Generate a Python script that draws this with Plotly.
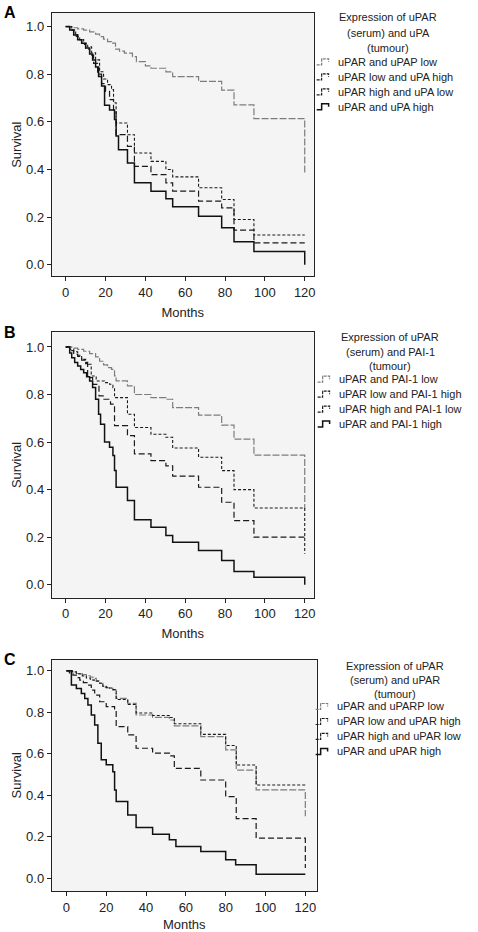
import plotly.graph_objects as go

W, H = 478, 932
FONT = "Liberation Sans, Arial, Helvetica, sans-serif"

# ---------------- data ----------------
# Panel A: uPAR (serum) and uPA (tumour)
A_low_t = [0, 3, 6, 9, 12, 15, 17, 19, 21, 23, 25, 27, 29.5, 33.5, 35.5, 40, 42.8, 50.3, 53.7, 66.7, 78.3, 84.5, 94.5, 120, 120]
A_low_s = [1.0, 0.995, 0.99, 0.985, 0.978, 0.968, 0.958, 0.947, 0.937, 0.93, 0.905, 0.897, 0.888, 0.874, 0.853, 0.835, 0.825, 0.81, 0.79, 0.77, 0.733, 0.671, 0.613, 0.613, 0.38]
A_dot_t = [0, 3, 5, 7, 9, 11, 13, 15, 17, 19, 21, 23, 24, 25.3, 31, 34.5, 42.8, 50.3, 53.7, 66.7, 78.3, 84.5, 94.5, 120]
A_dot_s = [1.0, 0.985, 0.958, 0.945, 0.93, 0.915, 0.89, 0.86, 0.81, 0.78, 0.756, 0.735, 0.68, 0.595, 0.546, 0.469, 0.434, 0.40, 0.369, 0.323, 0.274, 0.19, 0.125, 0.125]
A_dash_t = [0, 2, 4, 6, 8, 10, 12, 14, 16, 18, 20, 22, 24, 25.3, 31, 34.5, 42.8, 50.3, 53.7, 66.7, 78.3, 84.5, 94.5, 120]
A_dash_s = [1.0, 0.985, 0.965, 0.945, 0.925, 0.905, 0.88, 0.845, 0.8, 0.76, 0.728, 0.693, 0.65, 0.546, 0.497, 0.413, 0.378, 0.344, 0.309, 0.267, 0.239, 0.145, 0.092, 0.092]
A_sol_t = [0, 2, 4, 6, 8, 10, 12, 13.5, 15, 16.5, 18, 19.5, 22, 24.5, 25.3, 26.5, 31, 34.5, 42.8, 50.3, 53.7, 66.7, 78.3, 84.5, 94.5, 120, 120]
A_sol_s = [1.0, 0.985, 0.965, 0.945, 0.93, 0.91, 0.885, 0.86, 0.83, 0.79, 0.75, 0.67, 0.65, 0.61, 0.54, 0.483, 0.427, 0.344, 0.309, 0.277, 0.243, 0.204, 0.155, 0.096, 0.056, 0.056, 0.0]

# Panel B: uPAR (serum) and PAI-1 (tumour)
B_low_t = [0, 3, 6, 9, 12, 15, 17, 19, 21, 23, 24.5, 25.3, 31, 34.5, 42.8, 50.3, 53.7, 66.7, 78.3, 84.5, 94.5, 120, 120]
B_low_s = [1.0, 0.995, 0.99, 0.982, 0.972, 0.958, 0.94, 0.925, 0.913, 0.906, 0.878, 0.857, 0.836, 0.80, 0.787, 0.78, 0.745, 0.713, 0.671, 0.612, 0.545, 0.545, 0.32]
B_dot_t = [0, 2, 4, 6, 8, 10, 11.5, 12.8, 15.3, 19.5, 22, 23.7, 24.5, 31, 34.5, 42.8, 50.3, 53.7, 66.7, 78.3, 84.5, 94.5, 120, 120]
B_dot_s = [1.0, 0.99, 0.98, 0.965, 0.948, 0.935, 0.927, 0.878, 0.857, 0.85, 0.843, 0.829, 0.787, 0.717, 0.661, 0.633, 0.62, 0.575, 0.536, 0.48, 0.40, 0.323, 0.323, 0.13]
B_dash_t = [0, 2, 4, 6, 8, 10, 11, 13.5, 16.7, 19.2, 22.5, 24.5, 31, 34.5, 42.8, 50.3, 53.7, 66.7, 78.3, 84.5, 94.5, 120]
B_dash_s = [1.0, 0.985, 0.97, 0.96, 0.945, 0.93, 0.871, 0.843, 0.794, 0.78, 0.76, 0.669, 0.627, 0.55, 0.522, 0.50, 0.457, 0.41, 0.347, 0.27, 0.2, 0.2]
B_sol_t = [0, 2, 3, 4.5, 6, 7.5, 9, 10.5, 12, 13.5, 15, 16.5, 17.5, 19.5, 22, 23.7, 24.5, 25.3, 31, 34.5, 42.8, 50.3, 53.7, 66.7, 78.3, 84.5, 94.5, 120, 120]
B_sol_s = [1.0, 0.975, 0.955, 0.935, 0.92, 0.905, 0.892, 0.875, 0.857, 0.829, 0.78, 0.717, 0.675, 0.6, 0.578, 0.543, 0.48, 0.41, 0.354, 0.273, 0.242, 0.207, 0.179, 0.144, 0.102, 0.056, 0.032, 0.032, 0.0]

# Panel C: uPAR (serum) and uPAR (tumour)
C_low_t = [0, 3, 5, 8, 10, 12, 13.3, 15, 16.7, 18.3, 20, 21.7, 23.3, 25, 30.8, 35, 43.3, 51.7, 54.2, 67.5, 80, 85.3, 95.3, 120, 120]
C_low_s = [1.0, 0.995, 0.987, 0.982, 0.976, 0.97, 0.963, 0.952, 0.94, 0.923, 0.918, 0.915, 0.907, 0.867, 0.843, 0.787, 0.776, 0.763, 0.735, 0.683, 0.619, 0.522, 0.426, 0.426, 0.3]
C_dot_t = [0, 3, 5, 8, 10, 12, 13.3, 15, 16.7, 18.3, 20, 21.7, 23.3, 25, 30.8, 35, 43.3, 51.7, 54.2, 67.5, 80, 85.3, 95.3, 120]
C_dot_s = [1.0, 0.995, 0.985, 0.975, 0.965, 0.96, 0.955, 0.95, 0.94, 0.925, 0.92, 0.917, 0.91, 0.862, 0.838, 0.797, 0.785, 0.775, 0.745, 0.694, 0.64, 0.546, 0.45, 0.45]
C_dash_t = [0, 1.5, 3.3, 5, 6.7, 8.5, 10.8, 12.5, 14.2, 16.7, 20, 24.2, 25, 30.8, 35, 43.3, 51.7, 54.2, 67.5, 80, 85.3, 95.3, 120, 120]
C_dash_s = [1.0, 0.99, 0.979, 0.967, 0.955, 0.943, 0.931, 0.907, 0.883, 0.851, 0.827, 0.811, 0.731, 0.691, 0.627, 0.603, 0.59, 0.53, 0.474, 0.394, 0.288, 0.194, 0.194, 0.05]
C_sol_t = [0, 2, 2.5, 5, 7.5, 9.2, 10.8, 12.5, 14.2, 15.8, 17.5, 20, 23.3, 24.2, 25, 30.8, 35, 43.3, 51.7, 55, 67.5, 80, 85, 95.3, 120]
C_sol_s = [1.0, 1.0, 0.931, 0.915, 0.891, 0.867, 0.835, 0.787, 0.739, 0.651, 0.571, 0.547, 0.514, 0.426, 0.37, 0.306, 0.245, 0.213, 0.186, 0.154, 0.13, 0.09, 0.066, 0.02, 0.02]

A_names = ["uPAR and uPAP low", "uPAR low and uPA high", "uPAR high and uPA low", "uPAR and uPA high"]
B_names = ["uPAR and PAI-1 low", "uPAR low and PAI-1 high", "uPAR high and PAI-1 low", "uPAR and PAI-1 high"]
C_names = ["uPAR and uPARP low", "uPAR low and uPAR high", "uPAR high and uPAR low", "uPAR and uPAR high"]
A_title = ["Expression of uPAR", "(serum) and uPA", "(tumour)"]
B_title = ["Expression of uPAR", "(serum) and PAI-1", "(tumour)"]
C_title = ["Expression of uPAR", "(serum) and uPAR", "(tumour)"]
panel_letters = ["A", "B", "C"]
x_ticks = [0, 20, 40, 60, 80, 100, 120]
y_ticks = [0.0, 0.2, 0.4, 0.6, 0.8, 1.0]

# ---------------- styling ----------------
STY = [
    dict(color="#7c7c7c", width=1.2, dash="7px,2px"),
    dict(color="#1a1a1a", width=1.1, dash="3px,2px"),
    dict(color="#1a1a1a", width=1.2, dash="6px,3px"),
    dict(color="#111111", width=1.5, dash="solid"),
]

def px(xp): return xp / W
def py(yp): return 1 - yp / H

panels = [
    dict(series=[(A_low_t, A_low_s), (A_dot_t, A_dot_s), (A_dash_t, A_dash_s), (A_sol_t, A_sol_s)],
         names=A_names, title=A_title, letter=panel_letters[0],
         box=(52, 315, 13, 277), xr=[-7, 124.5], yr=[-0.049, 1.057],
         leg_title_y=[17, 33, 48], leg_items_y=[62, 77, 92, 107], leg_tx=337, leg_cx=390),
    dict(series=[(B_low_t, B_low_s), (B_dot_t, B_dot_s), (B_dash_t, B_dash_s), (B_sol_t, B_sol_s)],
         names=B_names, title=B_title, letter=panel_letters[1],
         box=(52, 315, 333, 599), xr=[-7, 124.5], yr=[-0.0546, 1.0617],
         leg_title_y=[338, 353, 367], leg_items_y=[380, 395, 410, 425], leg_tx=338, leg_cx=392),
    dict(series=[(C_low_t, C_low_s), (C_dot_t, C_dot_s), (C_dash_t, C_dash_s), (C_sol_t, C_sol_s)],
         names=C_names, title=C_title, letter=panel_letters[2],
         box=(52, 318, 661, 893), xr=[-7.35, 125.7], yr=[-0.061, 1.054],
         leg_title_y=[667, 681, 695], leg_items_y=[708, 723, 738, 753], leg_tx=336, leg_cx=397),
]

fig = go.Figure()
annotations = []
shapes = []
layout_axes = {}

for i, p in enumerate(panels):
    n = i + 1
    xa = "x" if n == 1 else f"x{n}"
    ya = "y" if n == 1 else f"y{n}"
    for (t, s), name, st in zip(p["series"], p["names"], STY):
        fig.add_trace(go.Scatter(x=t, y=s, mode="lines", name=name, line=dict(shape="hv", **st),
                                 xaxis=xa, yaxis=ya, showlegend=False, hoverinfo="skip"))
    x0, x1, y0, y1 = p["box"]
    xkey = "xaxis" if n == 1 else f"xaxis{n}"
    ykey = "yaxis" if n == 1 else f"yaxis{n}"
    layout_axes[xkey] = dict(
        domain=[px(x0), px(x1)], range=p["xr"], anchor=ya, tickvals=x_ticks,
        ticks="outside", ticklen=4, tickwidth=1, tickcolor="#222", showline=True, linecolor="#222",
        linewidth=1, mirror=True, showgrid=False, zeroline=False, fixedrange=True,
        tickfont=dict(size=13, color="#222", family=FONT),
        title=dict(text="Months", font=dict(size=13, color="#222", family=FONT), standoff=8),
    )
    layout_axes[ykey] = dict(
        domain=[py(y1), py(y0)], range=p["yr"], anchor=xa, tickvals=y_ticks, tickformat=".1f",
        ticks="outside", ticklen=4, tickwidth=1, tickcolor="#222", showline=True, linecolor="#222",
        linewidth=1, mirror=True, showgrid=False, zeroline=False, fixedrange=True,
        tickfont=dict(size=13, color="#222", family=FONT),
        title=dict(text="Survival", font=dict(size=13, color="#222", family=FONT), standoff=1),
    )
    # panel letter
    annotations.append(dict(text=f"<b>{p['letter']}</b>", xref="paper", yref="paper",
                            x=px(2), y=py(p["box"][2] + 0), xanchor="left", yanchor="middle",
                            showarrow=False, font=dict(size=16, color="#000", family=FONT)))
    # legend title
    for line, yy in zip(p["title"], p["leg_title_y"]):
        annotations.append(dict(text=line, xref="paper", yref="paper", x=px(p["leg_cx"]), y=py(yy),
                                xanchor="center", yanchor="middle", showarrow=False,
                                font=dict(size=11, color="#222", family=FONT)))
    # legend items
    for name, yy, st in zip(p["names"], p["leg_items_y"], STY):
        annotations.append(dict(text=name, xref="paper", yref="paper", x=px(p["leg_tx"]), y=py(yy),
                                xanchor="left", yanchor="middle", showarrow=False,
                                font=dict(size=11, color="#222", family=FONT)))
        kx = p["leg_tx"] - 19
        path = (f"M {px(kx)},{py(yy + 3)} H {px(kx + 5)} V {py(yy - 3)} "
                f"H {px(kx + 12)} V {py(yy)}")
        shapes.append(dict(type="path", xref="paper", yref="paper", path=path,
                           line=dict(color=st["color"], width=st["width"],
                                     dash="solid" if st["dash"] == "solid" else "3px,1px")))

fig.update_layout(
    width=W, height=H, margin=dict(l=0, r=0, t=0, b=0),
    paper_bgcolor="white", plot_bgcolor="#f4f4f4",
    font=dict(family=FONT, color="#222"),
    showlegend=False, annotations=annotations, shapes=shapes,
    **layout_axes,
)

fig.write_html("out.html", config={"displayModeBar": False, "staticPlot": True},
               post_script="document.body.style.margin='0';document.body.style.overflow='hidden';")
